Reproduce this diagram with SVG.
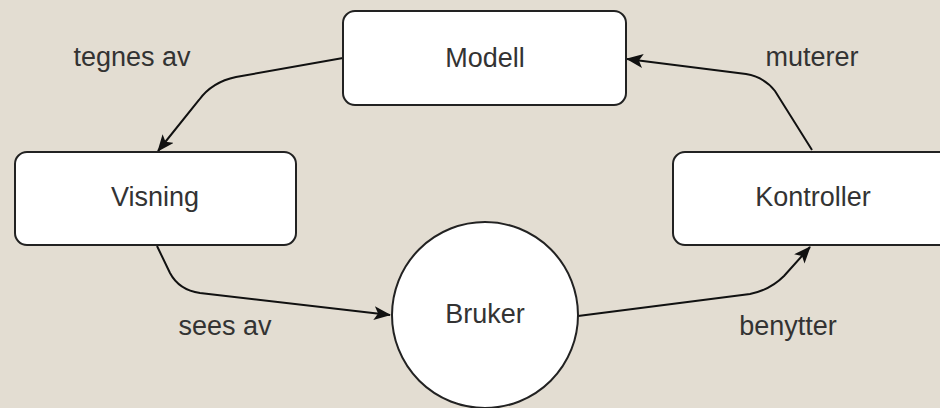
<svg xmlns="http://www.w3.org/2000/svg" width="940" height="408" viewBox="0 0 940 408">
  <style>
    .box { fill: #ffffff; stroke: #222222; stroke-width: 2; }
    .label { font-family: "Liberation Sans", Arial, sans-serif; font-size: 27px; fill: #333333; text-anchor: middle; }
    .edge { fill: none; stroke: #111111; stroke-width: 2; }
  </style>
  <defs>
    <marker id="arrow" viewBox="0 0 17 14" refX="16" refY="7" markerWidth="17" markerHeight="14" markerUnits="userSpaceOnUse" orient="auto">
      <path d="M0,0 L17,7 L0,14 L4,7 Z" fill="#111111"/>
    </marker>
  </defs>
  <rect width="940" height="408" fill="#e3ddd2"/>

  <!-- curved connectors between the four parts -->
  <g id="connectors">
    <path class="edge" marker-end="url(#arrow)" d="M343,58 L236,77 Q212,82 199,100 L158,151"/>
    <path class="edge" marker-end="url(#arrow)" d="M157,246 L170,273 Q179,290 200,293 L390,315"/>
    <path class="edge" marker-end="url(#arrow)" d="M578,316 L750,294 Q770,290 784,276 L810,247"/>
    <path class="edge" marker-end="url(#arrow)" d="M812,150 L775,91 Q764,77 746,74 L627,59"/>
  </g>

  <g id="modell">
    <rect class="box" x="343" y="11" width="283" height="94" rx="12"/>
    <text class="label" x="485" y="67">Modell</text>
  </g>
  <g id="visning">
    <rect class="box" x="15" y="152" width="281" height="93" rx="12"/>
    <text class="label" x="155" y="206">Visning</text>
  </g>
  <g id="kontroller">
    <rect class="box" x="673" y="152" width="280" height="93" rx="12"/>
    <text class="label" x="813" y="206">Kontroller</text>
  </g>
  <g id="bruker">
    <circle class="box" cx="485" cy="315" r="93"/>
    <text class="label" x="485" y="323">Bruker</text>
  </g>

  <g id="edge-labels">
    <text class="label" x="132" y="66">tegnes av</text>
    <text class="label" x="812" y="66">muterer</text>
    <text class="label" x="225" y="335">sees av</text>
    <text class="label" x="788" y="335">benytter</text>
  </g>
</svg>
